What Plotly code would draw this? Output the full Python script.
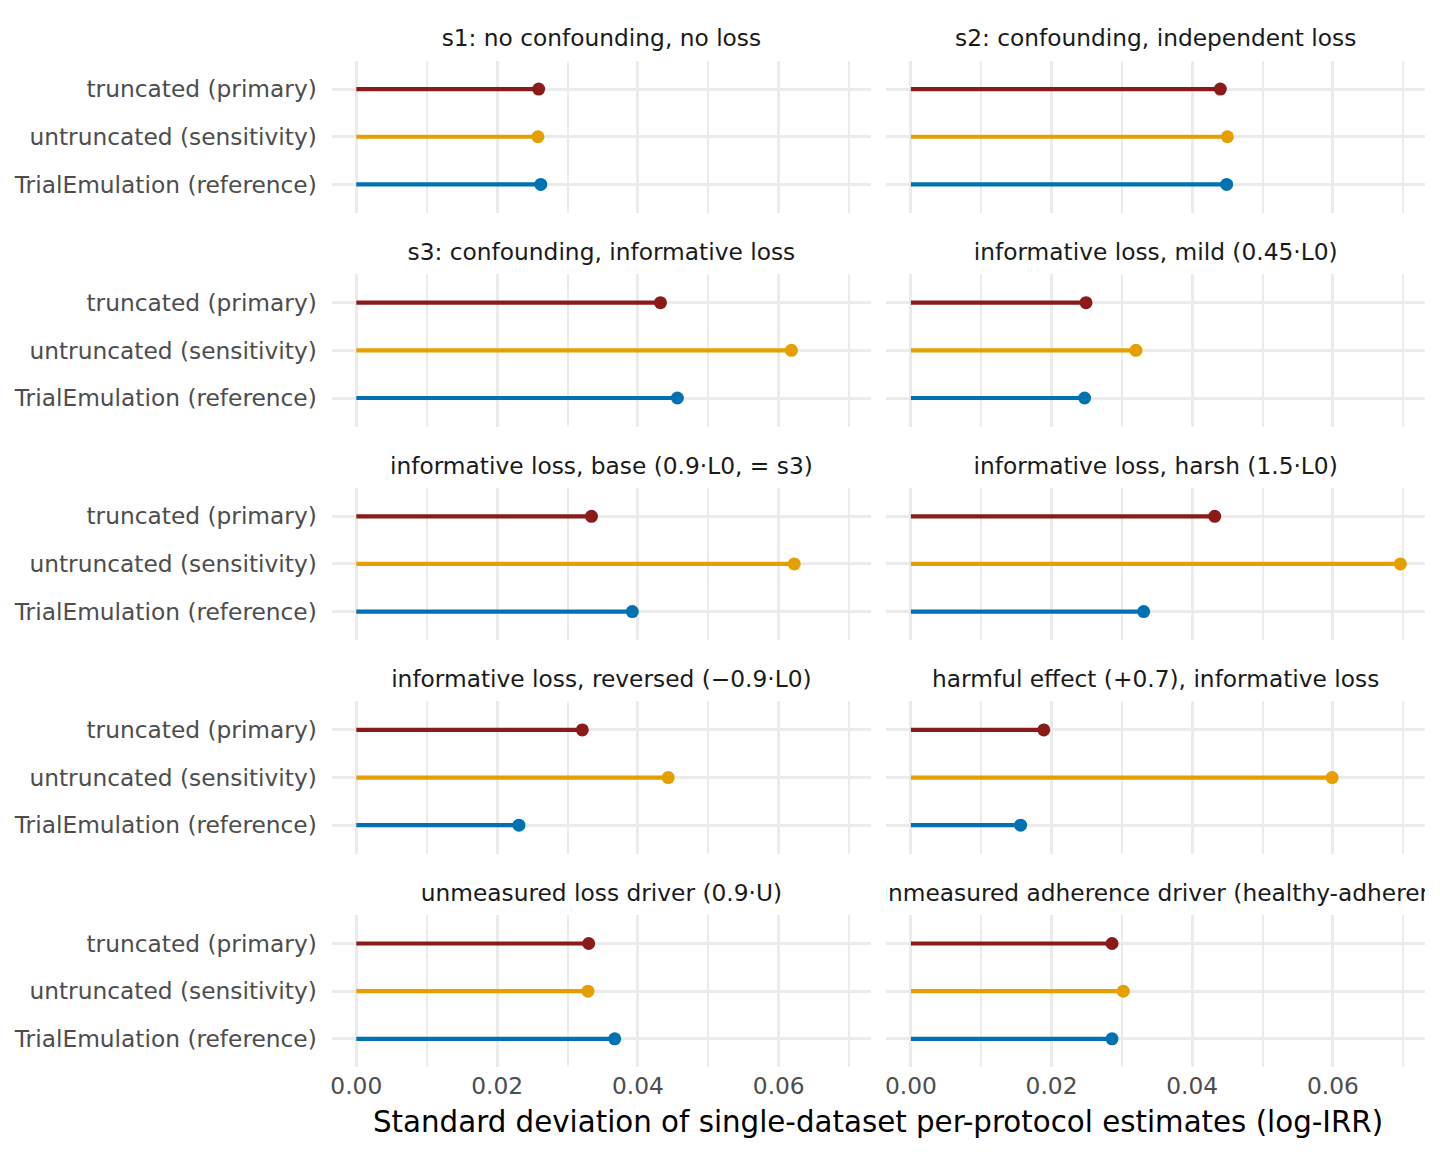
import plotly.graph_objects as go

# ---------------- data ----------------
panels = [
    "s1: no confounding, no loss",
    "s2: confounding, independent loss",
    "s3: confounding, informative loss",
    "informative loss, mild (0.45·L0)",
    "informative loss, base (0.9·L0, = s3)",
    "informative loss, harsh (1.5·L0)",
    "informative loss, reversed (\u22120.9·L0)",
    "harmful effect (+0.7), informative loss",
    "unmeasured loss driver (0.9·U)",
    "unmeasured adherence driver (healthy-adherer)",
]
methods = ["truncated (primary)", "untruncated (sensitivity)", "TrialEmulation (reference)"]
sd_truncated = [0.0259, 0.0440, 0.0432, 0.0249, 0.0334, 0.0432, 0.0321, 0.0189, 0.0330, 0.0286]
sd_untruncated = [0.0258, 0.0450, 0.0618, 0.0320, 0.0622, 0.0696, 0.0443, 0.0599, 0.0329, 0.0302]
sd_trialemulation = [0.0262, 0.0449, 0.0456, 0.0247, 0.0392, 0.0331, 0.0231, 0.0156, 0.0367, 0.0286]
colors = ["#8B1A1A", "#E69F00", "#0072B2"]
x_tickvals = [0.0, 0.02, 0.04, 0.06]
x_title = "Standard deviation of single-dataset per-protocol estimates (log-IRR)"

series = [sd_truncated, sd_untruncated, sd_trialemulation]

# ---------------- layout geometry ----------------
W, H = 1440, 1152
FONT = "DejaVu Sans"
AX_FS = 23.3
col_x = [(331.8, 871.0), (886.4, 1425.0)]
row_top0, row_pitch, panel_h = 60.5, 213.6, 152.5
xrange_ = [-0.00348, 0.0731]

fig = go.Figure()
layout = dict(
    width=W, height=H, margin=dict(l=0, r=0, t=0, b=0),
    paper_bgcolor="white", plot_bgcolor="white", showlegend=False,
    font=dict(family=FONT, size=AX_FS, color="#4D4D4D"),
)
annotations = []

for i, title in enumerate(panels):
    r, c = divmod(i, 2)
    n = i + 1
    xa = "x" if n == 1 else f"x{n}"
    ya = "y" if n == 1 else f"y{n}"
    top = row_top0 + r * row_pitch
    bot = top + panel_h
    x0, x1 = col_x[c]
    xdom = [x0 / W, x1 / W]
    ydom = [1 - bot / H, 1 - top / H]
    bottom_row = (r == 4)
    layout[f"xaxis{'' if n == 1 else n}"] = dict(
        domain=xdom, anchor=ya, range=xrange_, tickvals=x_tickvals, tickformat=".2f",
        showticklabels=bottom_row, showgrid=True, gridcolor="#EBEBEB", gridwidth=2.8,
        zeroline=False, showline=False, ticks="", ticklabelstandoff=2,
        minor=dict(tickvals=[0.01, 0.03, 0.05, 0.07], showgrid=True, gridcolor="#EBEBEB", gridwidth=1.5),
        tickfont=dict(family=FONT, size=AX_FS, color="#4D4D4D"),
    )
    layout[f"yaxis{'' if n == 1 else n}"] = dict(
        domain=ydom, anchor=xa, type="category", categoryorder="array",
        categoryarray=methods[::-1], range=[-0.6, 2.6],
        showticklabels=(c == 0), showgrid=True, gridcolor="#EBEBEB", gridwidth=2.8,
        zeroline=False, showline=False, ticks="", ticklabelstandoff=14,
        tickfont=dict(family=FONT, size=AX_FS, color="#4D4D4D"),
    )
    for m, meth in enumerate(methods):
        v = series[m][i]
        fig.add_trace(go.Scatter(
            x=[0, v], y=[meth, meth], mode="lines", line=dict(color=colors[m], width=4.2),
            xaxis=xa, yaxis=ya, hoverinfo="skip", cliponaxis=False))
        fig.add_trace(go.Scatter(
            x=[v], y=[meth], mode="markers", marker=dict(color=colors[m], size=13),
            xaxis=xa, yaxis=ya, cliponaxis=False))
    # strip title: text trace on an overlay axis, clipped to the panel width
    k = 10 + n
    layout[f"xaxis{k}"] = dict(domain=xdom, anchor=f"y{k}", range=[0, 1], visible=False)
    layout[f"yaxis{k}"] = dict(domain=[1 - (top - 2) / H, 1 - (top - 38) / H], anchor=f"x{k}",
                               range=[0, 1], visible=False)
    fig.add_trace(go.Scatter(
        x=[0.5], y=[0.5], mode="text", text=[title], textposition="middle center",
        textfont=dict(family=FONT, size=AX_FS, color="#1A1A1A"),
        xaxis=f"x{k}", yaxis=f"y{k}", cliponaxis=True, hoverinfo="skip"))

annotations.append(dict(
    text=x_title, x=878 / W, y=1 - 1122 / H, xref="paper", yref="paper",
    showarrow=False, xanchor="center", yanchor="middle",
    font=dict(family=FONT, size=29.3, color="#000000")))
layout["annotations"] = annotations
fig.update_layout(**layout)
fig.write_html("out.html")
